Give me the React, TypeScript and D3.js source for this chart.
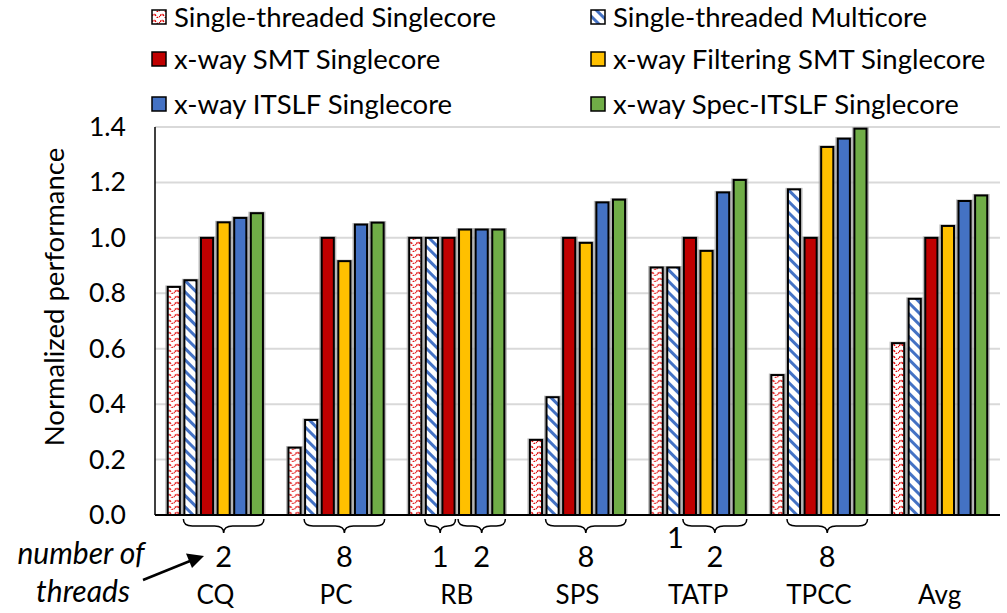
import React from 'react';
import * as d3 from 'd3';

const CATEGORIES = ['CQ', 'PC', 'RB', 'SPS', 'TATP', 'TPCC', 'Avg'];
const SERIES = [
  'Single-threaded Singlecore',
  'Single-threaded Multicore',
  'x-way SMT Singlecore',
  'x-way Filtering SMT Singlecore',
  'x-way ITSLF Singlecore',
  'x-way Spec-ITSLF Singlecore',
];
const ST_SINGLE = [0.823, 0.243, 1.0, 0.271, 0.893, 0.505, 0.62];
const ST_MULTI = [0.847, 0.343, 1.0, 0.425, 0.893, 1.175, 0.78];
const SMT = [1.0, 1.0, 1.0, 1.0, 1.0, 1.0, 1.0];
const FILTER_SMT = [1.056, 0.916, 1.03, 0.982, 0.953, 1.328, 1.043];
const ITSLF = [1.072, 1.048, 1.03, 1.128, 1.164, 1.358, 1.133];
const SPEC_ITSLF = [1.089, 1.055, 1.03, 1.138, 1.209, 1.394, 1.153];
const VALUES = [ST_SINGLE, ST_MULTI, SMT, FILTER_SMT, ITSLF, SPEC_ITSLF];
const Y_TICKS = [0, 0.2, 0.4, 0.6, 0.8, 1.0, 1.2, 1.4];

// thread-count braces under the groups: series index range + label
const BRACES = [
  { cat: 'CQ', from: 1, to: 5, label: '2' },
  { cat: 'PC', from: 1, to: 5, label: '8' },
  { cat: 'RB', from: 1, to: 2, label: '1' },
  { cat: 'RB', from: 3, to: 5, label: '2' },
  { cat: 'SPS', from: 1, to: 5, label: '8' },
  { cat: 'TATP', from: 2, to: 5, label: '2' },
  { cat: 'TPCC', from: 1, to: 5, label: '8' },
];
const LOOSE_LABELS = [{ cat: 'TATP', at: 1, label: '1' }];

const FILLS = ['url(#redWave)', 'url(#blueStripe)', '#C00000', '#FFC000', '#4472C4', '#70AD47'];
const FONT = 'Lato, "Open Sans", sans-serif';

function bracePath(x1: number, x2: number, y0: number, h: number) {
  const m = (x1 + x2) / 2;
  const r = Math.min(9, (x2 - x1) / 4);
  const ym = y0 + h / 2;
  return `M${x1},${y0} Q${x1},${ym} ${x1 + r},${ym} L${m - r},${ym} Q${m},${ym} ${m},${y0 + h} ` +
    `Q${m},${ym} ${m + r},${ym} L${x2 - r},${ym} Q${x2},${ym} ${x2},${y0}`;
}

export default function App() {
  const width = 1007;
  const height = 613;
  const left = 155;
  const right = 1000;
  const top = 127;
  const bottom = 515;

  const x0 = d3.scaleBand<string>().domain(CATEGORIES).range([left, right]).paddingInner(0.195).paddingOuter(0.0975);
  const x1 = d3.scaleBand<number>().domain(d3.range(SERIES.length)).range([0, x0.bandwidth()]).paddingInner(0.15);
  const y = d3.scaleLinear().domain([0, 1.4]).range([bottom, top]);
  const bw = x1.bandwidth();

  const legendRows = [17, 59, 104];
  const legendCols = [152, 591];

  return (
    <svg width={width} height={height} style={{ position: 'absolute', left: 0, top: 0, background: '#fff' }}>
      <defs>
        <pattern id="redWave" patternUnits="userSpaceOnUse" width={8} height={6}>
          <rect width={8} height={6} fill="#fff" />
          <path d="M0,4 Q2,0.5 4,4 T8,4" fill="none" stroke="#E00000" strokeWidth={1.5} strokeDasharray="2,1.2" />
        </pattern>
        <pattern id="blueStripe" patternUnits="userSpaceOnUse" width={8} height={8} patternTransform="rotate(45)">
          <rect width={8} height={8} fill="#fff" />
          <rect width={8} height={3} fill="#4472C4" />
        </pattern>
      </defs>

      {/* gridlines */}
      {Y_TICKS.filter(t => t > 0).map(t => (
        <line key={t} x1={left} x2={right} y1={y(t)} y2={y(t)} stroke="#d9d9d9" strokeWidth={2} />
      ))}

      {/* y tick labels */}
      {Y_TICKS.map(t => (
        <text key={t} x={126} y={y(t) + 9} textAnchor="end" fontFamily={FONT} fontSize={26.5} fill="#000">
          {d3.format('.1f')(t)}
        </text>
      ))}

      <text transform="translate(64,297) rotate(-90)" textAnchor="middle" fontFamily={FONT} fontSize={27.5} fill="#000">
        Normalized performance
      </text>

      {/* bars */}
      {CATEGORIES.map((c, ci) => (
        <g key={c} transform={`translate(${x0(c)},0)`}>
          {VALUES.map((vals, si) => {
            const bx = x1(si) as number;
            const by = y(vals[ci]);
            return (
              <g key={si}>
                <rect x={bx - 1.5} y={by - 1.5} width={bw + 3} height={bottom - by + 1.5} fill="#a0a0a0" opacity={0.7} />
                <rect x={bx + 1} y={by} width={bw - 2} height={bottom - by} fill={FILLS[si]} stroke="#000" strokeWidth={2} />
              </g>
            );
          })}
        </g>
      ))}

      {/* axes */}
      <line x1={left} x2={left} y1={top} y2={bottom} stroke="#000" strokeWidth={1.5} />
      <line x1={left} x2={right} y1={bottom} y2={bottom} stroke="#000" strokeWidth={2} />

      {/* braces + thread counts */}
      {BRACES.map((b, i) => {
        const bx0 = (x0(b.cat) as number) + (x1(b.from) as number);
        const bx1 = (x0(b.cat) as number) + (x1(b.to) as number) + bw;
        return (
          <g key={i}>
            <path d={bracePath(bx0, bx1, 519, 14)} fill="none" stroke="#000" strokeWidth={1.5} />
            <text x={(bx0 + bx1) / 2} y={567} textAnchor="middle" fontFamily={FONT} fontSize={29} fill="#000">
              {b.label}
            </text>
          </g>
        );
      })}
      {LOOSE_LABELS.map((l, i) => (
        <text key={i} x={(x0(l.cat) as number) + (x1(l.at) as number) + bw / 2 + 2} y={548} textAnchor="middle"
          fontFamily={FONT} fontSize={29} fill="#000">
          {l.label}
        </text>
      ))}

      {/* category labels */}
      {CATEGORIES.map(c => (
        <text key={c} x={(x0(c) as number) + x0.bandwidth() / 2} y={604} textAnchor="middle" fontFamily={FONT}
          fontSize={26} fill="#000">
          {c}
        </text>
      ))}

      {/* number of threads annotation */}
      <text x={81} y={564} textAnchor="middle" fontFamily={FONT} fontStyle="italic" fontSize={30} fill="#000">number of</text>
      <text x={83} y={602} textAnchor="middle" fontFamily={FONT} fontStyle="italic" fontSize={30} fill="#000">threads</text>
      <line x1={143} y1={580} x2={190} y2={561} stroke="#000" strokeWidth={2.5} />
      <path d="M204,556 L186,553.5 L192,568 Z" fill="#000" />

      {/* legend */}
      {SERIES.map((s, i) => {
        const lx = legendCols[i % 2];
        const ly = legendRows[Math.floor(i / 2)];
        return (
          <g key={s}>
            <rect x={lx} y={ly - 7} width={14} height={14} fill={FILLS[i]} stroke="#000" strokeWidth={1.5} />
            <text x={lx + 22} y={ly + 10} fontFamily={FONT} fontSize={27.5} fill="#000">{s}</text>
          </g>
        );
      })}
    </svg>
  );
}
